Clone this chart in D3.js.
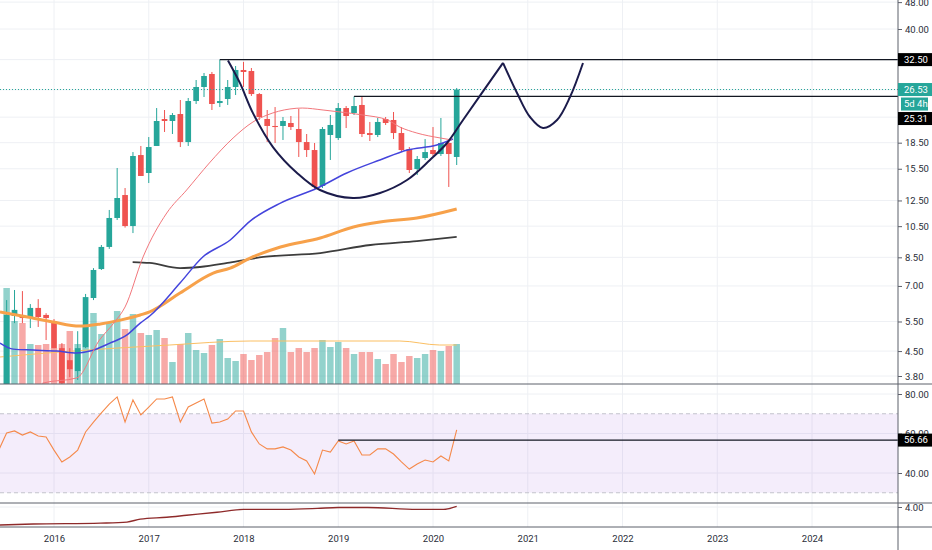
<!DOCTYPE html>
<html>
<head>
<meta charset="utf-8">
<script src="https://cdn.jsdelivr.net/npm/d3@7"></script>
<style>
body { margin: 0; background: #fff; }
svg text { font-family: Roboto, "Liberation Sans", sans-serif; }
</style>
</head>
<body>
<svg id="chart" width="932" height="550"></svg>
<script>
// Monthly candles, Jul 2015 .. Apr 2020
var months = [
    "2015-07", "2015-08", "2015-09", "2015-10", "2015-11", "2015-12",
    "2016-01", "2016-02", "2016-03", "2016-04", "2016-05", "2016-06", "2016-07", "2016-08", "2016-09", "2016-10", "2016-11", "2016-12",
    "2017-01", "2017-02", "2017-03", "2017-04", "2017-05", "2017-06", "2017-07", "2017-08", "2017-09", "2017-10", "2017-11", "2017-12",
    "2018-01", "2018-02", "2018-03", "2018-04", "2018-05", "2018-06", "2018-07", "2018-08", "2018-09", "2018-10", "2018-11", "2018-12",
    "2019-01", "2019-02", "2019-03", "2019-04", "2019-05", "2019-06", "2019-07", "2019-08", "2019-09", "2019-10", "2019-11", "2019-12",
    "2020-01", "2020-02", "2020-03", "2020-04"
];
var opens = [
    3.57, 5.71, 5.75, 5.63, 6.03, 5.75,
    5.48, 4.59, 4.23, 3.93, 4.62, 6.45, 7.85, 9.12, 11.10, 12.97, 10.51, 17.01,
    15.06, 18.09, 21.72, 21.43, 22.47, 18.58, 24.54, 26.99, 29.48, 24.21, 24.88, 26.99,
    30.29, 30.08, 25.73, 21.72, 20.72, 20.72, 21.14, 20.30, 18.58, 17.60, 13.79, 19.49,
    19.09, 23.40, 22.62, 23.89, 19.75, 19.49, 21.72, 21.58, 19.75, 17.72, 15.47, 16.67,
    17.60, 17.13, 18.46, 16.79
];
var highs = [
    6.36, 6.81, 6.76, 6.19, 6.40, 5.82,
    5.59, 4.75, 4.59, 5.15, 6.63, 7.90, 9.24, 11.72, 15.58, 13.60, 17.36, 18.09,
    19.22, 23.40, 23.09, 22.62, 24.71, 25.05, 28.30, 29.68, 29.88, 32.50, 28.30, 31.12,
    32.00, 30.70, 25.90, 23.09, 23.56, 22.02, 22.17, 23.25, 19.62, 18.46, 20.57, 22.32,
    24.21, 23.72, 25.31, 25.22, 21.29, 21.87, 22.02, 22.78, 20.57, 17.96, 16.90, 18.96,
    20.57, 21.87, 18.84, 26.81
];
var lows = [
    3.45, 5.44, 5.44, 5.26, 5.30, 4.85,
    4.59, 3.57, 3.77, 3.70, 4.59, 6.36, 7.80, 9.00, 10.95, 10.40, 10.02, 14.76,
    14.07, 18.09, 19.89, 19.62, 17.96, 18.09, 24.05, 25.22, 23.09, 23.56, 23.89, 25.56,
    26.99, 25.40, 21.58, 18.58, 18.46, 18.84, 20.16, 16.79, 16.79, 13.42, 13.60, 16.45,
    18.84, 20.43, 22.32, 19.22, 18.71, 19.22, 20.86, 18.96, 17.36, 15.06, 14.86, 16.45,
    16.90, 16.90, 13.70, 15.90
];
var closes = [
    5.75, 5.95, 5.63, 6.03, 5.67, 5.63,
    4.59, 3.62, 3.98, 4.59, 6.49, 7.80, 9.12, 11.10, 12.71, 10.51, 16.90, 14.76,
    17.96, 21.43, 21.43, 22.32, 18.58, 24.54, 26.99, 29.08, 24.05, 24.54, 26.99, 30.29,
    29.88, 25.73, 22.02, 20.72, 20.57, 21.43, 20.57, 18.58, 17.60, 13.70, 20.30, 20.86,
    23.40, 22.17, 23.72, 19.62, 19.49, 21.29, 21.14, 19.75, 17.60, 15.37, 16.56, 17.36,
    17.13, 18.46, 17.13, 26.53
];
// volume, millions
var volumes = [
    96, 63, 61, 40, 39, 40,
    36, 40, 53, 40, 57, 71, 50, 61, 73, 55, 70, 51,
    49, 54, 46, 22, 40, 51, 34, 31, 39, 45, 26, 23,
    30, 24, 29, 32, 46, 56, 32, 36, 32, 36, 44, 37,
    42, 36, 30, 32, 32, 25, 20, 30, 22, 28, 26, 30,
    34, 33, 38, 40
];

// RSI starts one month earlier (Jun 2015)
var rsiValues = [
    51.6, 60.3, 61.3, 59.2, 60.8, 58.7, 58.2,
    51.6, 45.6, 48.1, 51.6, 60.8, 65.8, 70.4, 74.9, 78.5, 65.8, 77.0, 69.4,
    73.4, 77.5, 77.5, 78.5, 65.8, 73.4, 75.4, 77.5, 65.3, 65.8, 67.3, 71.4,
    71.4, 60.8, 54.7, 52.2, 52.2, 53.2, 51.6, 48.1, 46.1, 39.5, 51.6, 50.6,
    56.2, 54.7, 56.2, 49.1, 49.1, 52.2, 52.2, 49.6, 45.6, 42.0, 44.6, 46.6,
    45.6, 48.6, 46.1, 61.8
];

// moving averages as [decimal year, price]
var maFast = [[2015.85, 3.45], [2015.88, 3.62], [2016.24, 3.75], [2016.48, 4.85], [2016.63, 5.44], [2016.75, 6.07],
    [2016.94, 8.52], [2017.19, 11.48], [2017.40, 13.42], [2017.64, 16.12], [2017.89, 19.09], [2018.10, 21.29],
    [2018.25, 22.32], [2018.49, 23.25], [2018.62, 23.40], [2018.84, 23.09], [2019.02, 22.78], [2019.26, 22.32],
    [2019.52, 21.58], [2019.65, 20.57], [2019.83, 19.75], [2020.08, 19.09], [2020.20, 18.84]];
var maMid = [[2015.43, 4.75], [2015.57, 4.56], [2015.78, 4.53], [2016.03, 4.50], [2016.24, 4.44], [2016.38, 4.50],
    [2016.59, 4.75], [2016.77, 5.02], [2016.91, 5.44], [2017.01, 5.71], [2017.33, 7.14], [2017.57, 8.52],
    [2017.86, 9.56], [2018.07, 10.87], [2018.39, 12.28], [2018.78, 13.60], [2019.09, 15.06], [2019.44, 16.45],
    [2019.73, 17.60], [2020.04, 18.21], [2020.21, 18.96]];
var maSlow = [[2015.43, 5.87], [2015.72, 5.67], [2015.99, 5.48], [2016.27, 5.33], [2016.49, 5.41], [2016.70, 5.55],
    [2016.91, 5.75], [2017.01, 5.87], [2017.33, 6.67], [2017.68, 7.64], [2017.86, 7.90], [2018.07, 8.46],
    [2018.39, 9.12], [2018.81, 9.69], [2019.16, 10.44], [2019.44, 10.80], [2019.83, 11.10], [2020.25, 11.80]];
var maLong = [[2016.83, 8.23], [2017.01, 8.18], [2017.33, 7.90], [2017.54, 7.96], [2017.83, 8.18], [2018.07, 8.40],
    [2018.21, 8.52], [2018.81, 8.75], [2019.34, 9.24], [2019.83, 9.49], [2020.25, 9.76]];
var volumeMa = [[2015.43, 27], [2016.06, 32], [2017.22, 39], [2018.07, 43], [2019.65, 43], [2020.07, 39], [2020.25, 39]];

// lower indicator pane
var lowerLine = [[2015.43, 0.39], [2015.78, 0.59], [2016.49, 0.78], [2016.77, 0.98], [2016.91, 1.57], [2017.19, 1.96],
    [2017.40, 2.35], [2017.72, 2.94], [2018.00, 3.52], [2018.42, 3.52], [2018.78, 3.72], [2019.00, 3.91],
    [2019.31, 3.91], [2019.83, 3.52], [2020.11, 3.52], [2020.25, 4.11]];

// drawings: cup and handle, horizontal levels
var cupLeft = [[2017.836, 32.3], [2017.963, 27.7], [2018.10, 22.6], [2018.311, 17.96], [2018.565, 15.06],
    [2018.807, 13.42], [2019.156, 12.71], [2019.441, 13.15], [2019.726, 14.36], [2019.968, 16.45],
    [2020.148, 18.46], [2020.317, 21.58], [2020.739, 31.8]];
var cupRight = [[2020.739, 31.8], [2020.887, 25.91], [2021.024, 22.02], [2021.161, 20.43], [2021.309, 21.58],
    [2021.446, 25.22], [2021.583, 31.77]];
var levelPrices = [32.50, 25.31];
var levelStarts = ["2017-10", "2019-03"];
var rsiLevel = 56.66;
var rsiLevelStart = "2019-01";
var countdown = "5d 4h";

// axis ticks
var years = [2016, 2017, 2018, 2019, 2020, 2021, 2022, 2023, 2024];
var priceTicks = [48, 40, 32.5, 26.5, 22, 18.5, 15.5, 12.5, 10.5, 8.5, 7, 5.5, 4.5, 3.8];
var rsiTicks = [80, 60, 40];
var lowerTicks = [4];

var svg = d3.select("#chart");
var plotRight = 898;
var mainBottom = 384, rsiBottom = 503, lowerBottom = 527;
var up = "#26a69a", down = "#ef5350";

function monthT(s) {
    var p = s.split("-");
    return +p[0] + (+p[1] - 1) / 12;
}

var candles = months.map(function(m, i) {
    return {t: monthT(m), o: opens[i], h: highs[i], l: lows[i], c: closes[i], v: volumes[i]};
});
var rsiData = ["2015-06"].concat(months).map(function(m, i) { return [monthT(m), rsiValues[i]]; });

// Scales
var x = d3.scaleLinear().domain([2016, 2024]).range([54, 812]);
var y = d3.scaleLog().domain([3.8, 40]).range([376, 29]);
var yVol = d3.scaleLinear().domain([0, 100]).range([mainBottom, 284]);
var yRsi = d3.scaleLinear().domain([40, 80]).range([473, 394]);
var yLow = d3.scaleLinear().domain([0, 4]).range([lowerBottom, 507]);

svg.append("rect").attr("width", 932).attr("height", 550).attr("fill", "#fff");

// Clip paths for panes
var defs = svg.append("defs");
defs.append("clipPath").attr("id", "clipMain").append("rect")
    .attr("x", 0).attr("y", 0).attr("width", plotRight).attr("height", mainBottom);
defs.append("clipPath").attr("id", "clipRsi").append("rect")
    .attr("x", 0).attr("y", mainBottom).attr("width", plotRight).attr("height", rsiBottom - mainBottom);
defs.append("clipPath").attr("id", "clipLow").append("rect")
    .attr("x", 0).attr("y", rsiBottom).attr("width", plotRight).attr("height", lowerBottom - rsiBottom);

// Grid
var grid = svg.append("g").attr("stroke", "#eef0f4").attr("stroke-width", 1);
years.forEach(function(yr) {
    grid.append("line").attr("x1", x(yr)).attr("x2", x(yr)).attr("y1", 0).attr("y2", lowerBottom);
});
priceTicks.forEach(function(p) {
    grid.append("line").attr("x1", 0).attr("x2", plotRight).attr("y1", y(p)).attr("y2", y(p));
});
rsiTicks.forEach(function(v) {
    grid.append("line").attr("x1", 0).attr("x2", plotRight).attr("y1", yRsi(v)).attr("y2", yRsi(v));
});
lowerTicks.forEach(function(v) {
    grid.append("line").attr("x1", 0).attr("x2", plotRight).attr("y1", yLow(v)).attr("y2", yLow(v));
});

var main = svg.append("g").attr("clip-path", "url(#clipMain)");
var step = x(2016 + 1 / 12) - x(2016);

// Volume bars
main.selectAll(".vol")
    .data(candles)
    .enter().append("rect")
    .attr("x", d => x(d.t) - step * 0.41)
    .attr("y", d => yVol(d.v))
    .attr("width", step * 0.82)
    .attr("height", d => mainBottom - yVol(d.v))
    .attr("fill", d => d.c >= d.o ? "rgba(38,166,154,0.5)" : "rgba(239,83,80,0.5)");

main.append("path")
    .attr("d", d3.line().x(d => x(d[0])).y(d => yVol(d[1])).curve(d3.curveMonotoneX)(volumeMa))
    .attr("fill", "none").attr("stroke", "#fbbf63").attr("stroke-width", 1);

// Candles
var c = main.selectAll(".candle").data(candles).enter().append("g");
c.append("line")
    .attr("x1", d => x(d.t)).attr("x2", d => x(d.t))
    .attr("y1", d => y(d.h)).attr("y2", d => y(d.l))
    .attr("stroke", d => d.c >= d.o ? up : down).attr("stroke-width", 1);
c.append("rect")
    .attr("x", d => x(d.t) - step * 0.36)
    .attr("y", d => y(Math.max(d.o, d.c)))
    .attr("width", step * 0.72)
    .attr("height", d => Math.max(1, Math.abs(y(d.o) - y(d.c))))
    .attr("fill", d => d.c >= d.o ? up : down);

// Moving averages
var priceLine = d3.line().x(d => x(d[0])).y(d => y(d[1])).curve(d3.curveMonotoneX);
[[maLong, "#3d3d3d", 1.8], [maSlow, "#f7a14a", 3], [maMid, "#4444dc", 1.5], [maFast, "#f2777c", 1]].forEach(function(m) {
    main.append("path").attr("d", priceLine(m[0]))
        .attr("fill", "none").attr("stroke", m[1]).attr("stroke-width", m[2]);
});

// Drawings
var lastClose = closes[closes.length - 1];
main.append("line")
    .attr("x1", 0).attr("x2", plotRight).attr("y1", y(lastClose)).attr("y2", y(lastClose))
    .attr("stroke", up).attr("stroke-width", 1).attr("stroke-dasharray", "1,2");
levelPrices.forEach(function(p, i) {
    main.append("line")
        .attr("x1", x(monthT(levelStarts[i]))).attr("x2", plotRight)
        .attr("y1", y(p)).attr("y2", y(p))
        .attr("stroke", "#131722").attr("stroke-width", 1.2);
});
var cupLine = d3.line().x(d => x(d[0])).y(d => y(d[1])).curve(d3.curveCatmullRom.alpha(0.5));
[cupLeft, cupRight].forEach(function(pts) {
    main.append("path").attr("d", cupLine(pts))
        .attr("fill", "none").attr("stroke", "#1b1b4b").attr("stroke-width", 2);
});

// RSI pane
var rsiG = svg.append("g").attr("clip-path", "url(#clipRsi)");
rsiG.append("rect")
    .attr("x", 0).attr("y", yRsi(70)).attr("width", plotRight).attr("height", yRsi(30) - yRsi(70))
    .attr("fill", "rgba(155,89,222,0.11)");
[70, 30].forEach(function(v) {
    rsiG.append("line").attr("x1", 0).attr("x2", plotRight).attr("y1", yRsi(v)).attr("y2", yRsi(v))
        .attr("stroke", "#c3c3cc").attr("stroke-dasharray", "4,3");
});
rsiG.append("path")
    .attr("d", d3.line().x(d => x(d[0])).y(d => yRsi(d[1]))(rsiData))
    .attr("fill", "none").attr("stroke", "#f5894a").attr("stroke-width", 1.1);
rsiG.append("line")
    .attr("x1", x(monthT(rsiLevelStart))).attr("x2", plotRight)
    .attr("y1", yRsi(rsiLevel)).attr("y2", yRsi(rsiLevel))
    .attr("stroke", "#131722").attr("stroke-width", 1.2);

// Lower pane
svg.append("g").attr("clip-path", "url(#clipLow)").append("path")
    .attr("d", d3.line().x(d => x(d[0])).y(d => yLow(d[1])).curve(d3.curveMonotoneX)(lowerLine))
    .attr("fill", "none").attr("stroke", "#8e2a2a").attr("stroke-width", 1.4);

// Pane separators and price axis line
[mainBottom, rsiBottom, lowerBottom].forEach(function(yy) {
    svg.append("line").attr("x1", 0).attr("x2", 932).attr("y1", yy).attr("y2", yy)
        .attr("stroke", "#5d606b").attr("stroke-width", 1);
});
svg.append("line").attr("x1", plotRight).attr("x2", plotRight).attr("y1", 0).attr("y2", 550)
    .attr("stroke", "#5d606b").attr("stroke-width", 1);

// Axes
function styleAxis(g) {
    g.select(".domain").remove();
    g.selectAll(".tick line").attr("stroke", "#5d606b");
    g.selectAll(".tick text").attr("fill", "#2a2e39").style("font-size", "9.5px");
}
svg.append("g").attr("transform", "translate(" + plotRight + ",0)")
    .call(d3.axisRight(y).tickValues(priceTicks).tickFormat(d3.format(".2f")).tickSize(4).tickPadding(3))
    .call(styleAxis);
svg.append("g").attr("transform", "translate(" + plotRight + ",0)")
    .call(d3.axisRight(yRsi).tickValues(rsiTicks).tickFormat(d3.format(".2f")).tickSize(4).tickPadding(3))
    .call(styleAxis);
svg.append("g").attr("transform", "translate(" + plotRight + ",0)")
    .call(d3.axisRight(yLow).tickValues(lowerTicks).tickFormat(d3.format(".2f")).tickSize(4).tickPadding(3))
    .call(styleAxis);
svg.append("g").attr("transform", "translate(0," + lowerBottom + ")")
    .call(d3.axisBottom(x).tickValues(years).tickFormat(d3.format("d")).tickSize(0).tickPadding(8))
    .call(styleAxis);

// Price labels on the axis, stacked when they overlap
var labels = [
    {y: y(levelPrices[0]), text: d3.format(".2f")(levelPrices[0]), fill: "#000"},
    {y: y(lastClose), text: d3.format(".2f")(lastClose), fill: up},
    {y: y(lastClose), text: countdown, fill: up, inset: true},
    {y: y(levelPrices[1]), text: d3.format(".2f")(levelPrices[1]), fill: "#000"},
    {y: yRsi(rsiLevel), text: d3.format(".2f")(rsiLevel), fill: "#000"}
];
var prevY = -100;
labels.forEach(function(l) {
    if (l.y < prevY + 14.5) l.y = prevY + 14.5;
    prevY = l.y;
    var x0 = l.inset ? plotRight + 3 : plotRight;
    var w = l.inset ? 27 : 934 - plotRight;
    svg.append("rect").attr("x", x0).attr("y", l.y - 6.5).attr("width", w).attr("height", 13).attr("fill", l.fill);
    svg.append("text").attr("x", plotRight + 6).attr("y", l.y).attr("dy", "0.35em")
        .attr("fill", "#fff").style("font-size", "9.5px").text(l.text);
});
</script>
</body>
</html>
